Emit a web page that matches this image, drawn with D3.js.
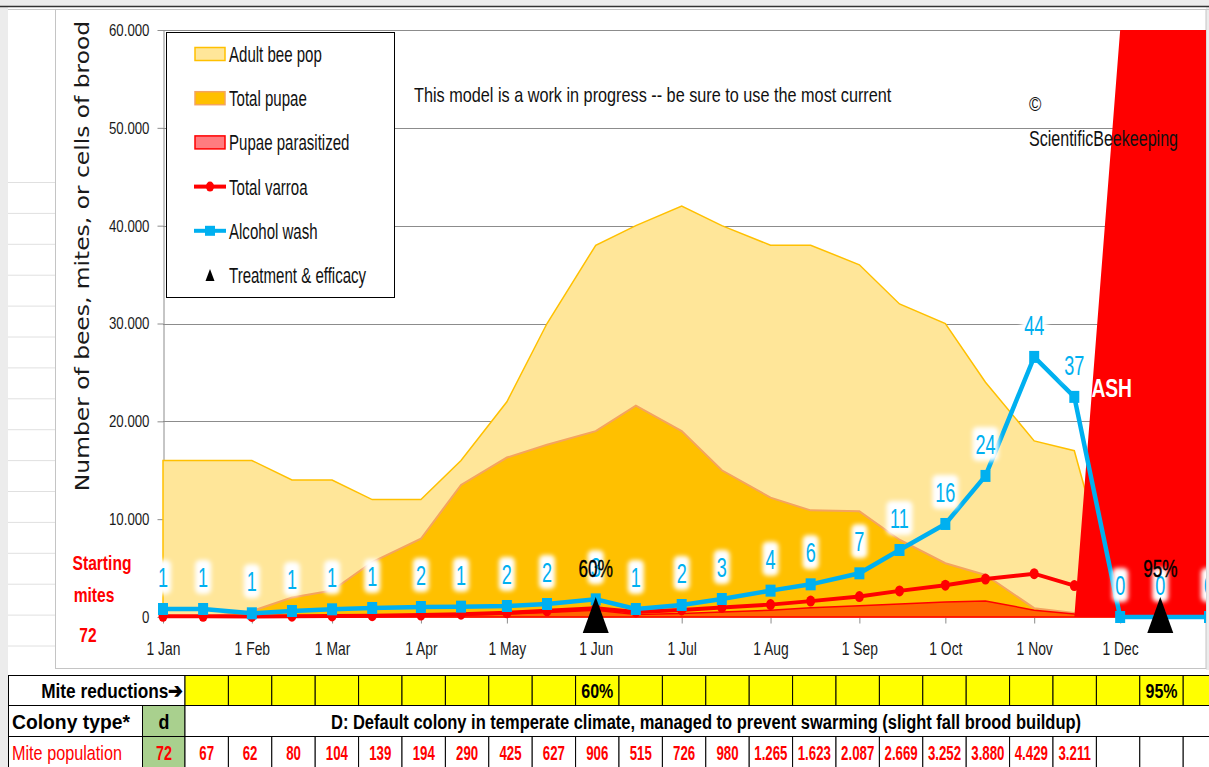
<!DOCTYPE html>
<html>
<head>
<meta charset="utf-8">
<script src="https://cdn.jsdelivr.net/npm/d3@7"></script>
<style>
  body { margin: 0; background: #fff; }
  text { font-family: "Liberation Sans", Arial, sans-serif; }
</style>
</head>
<body>
<svg id="chart"></svg>
<script>

	/* ---------------------------------
		Data
	------------------------------------*/

	// one point on the 1st and the 15th of every month
	var pointDates = ["2023-01-01","2023-01-15","2023-02-01","2023-02-15","2023-03-01","2023-03-15",
		"2023-04-01","2023-04-15","2023-05-01","2023-05-15","2023-06-01","2023-06-15",
		"2023-07-01","2023-07-15","2023-08-01","2023-08-15","2023-09-01","2023-09-15",
		"2023-10-01","2023-10-15","2023-11-01","2023-11-15","2023-12-01","2023-12-15","2024-01-01"];

	var adultBees = [16000,16000,16000,14000,14000,12000,12000,16000,22000,30000,38000,40000,
		42000,40000,38000,38000,36000,32000,30000,24000,18000,17000,0,0,0];

	var totalPupae = [0,0,600,2000,2700,5600,8000,13500,16300,17600,19000,21600,
		19000,15000,12200,10900,10800,7900,5500,4300,900,400,0,0,0];

	var pupaeParasitized = [0,0,0,0,50,100,150,200,300,450,700,250,
		350,500,700,950,1150,1330,1530,1640,700,300,0,0,0];

	// colony collapse marker series (runs off the top of the axis)
	var crash = [0,0,0,0,0,0,0,0,0,0,0,0,0,0,0,0,0,0,0,0,0,0,60000,60000,60000];

	var totalVarroa = [72,67,62,80,104,139,194,290,425,627,906,515,
		726,980,1265,1623,2087,2669,3252,3880,4429,3211,null,null,null];

	// alcohol wash: plotted height and the label shown above it
	var washPlot = [818,818,378,613,786,920,1022,1056,1125,1329,1806,818,
		1227,1840,2693,3340,4465,6850,9509,14420,26585,22500,0,0,0];
	var washLabels = ["1","1","1","1","1","1","2","1","2","2","3","1",
		"2","3","4","6","7","11","16","24","44","37","0","0","0"];

	var treatmentDates = ["2023-06-01","2023-12-15"];
	var treatmentLabels = ["60%","95%"];

	var yTicks = [0,10000,20000,30000,40000,50000,60000];

	var legendLabels = ["Adult bee pop","Total pupae","Pupae parasitized","Total varroa","Alcohol wash","Treatment & efficacy"];

	// table under the chart
	var startingMites = 72;
	var colonyType = "d";
	var colonyText = "D: Default colony in temperate climate, managed to prevent swarming (slight fall brood buildup)";
	var reductionRow = ["","","","","","","","","","60%","","","","","","","","","","","","","95%",""];
	var mitePopRow = [67,62,80,104,139,194,290,425,627,906,515,726,980,1265,1623,2087,2669,3252,3880,4429,3211,null,null,null];


	/* ---------------------------------
		Setup
	------------------------------------*/

	var w = 1209;
	var h = 767;

	var parseDay = d3.timeParse("%Y-%m-%d");
	var dates = pointDates.map(parseDay);

	var locale = d3.formatLocale({decimal: ",", thousands: ".", grouping: [3], currency: ["", ""]});
	var fmt = locale.format(",");

	var xScale = d3.scaleTime()
		.domain([parseDay("2023-01-01"), parseDay("2024-01-01")])
		.range([163, 1209]);

	var yScale = d3.scaleLinear()
		.domain([0, 60000])
		.range([617, 30]);

	var plotRight = 1206;

	var svg = d3.select("#chart")
		.attr("width", w)
		.attr("height", h);

	var defs = svg.append("defs");
	defs.append("clipPath").attr("id", "plotClip")
		.append("rect").attr("x", 100).attr("y", 0).attr("width", plotRight - 100).attr("height", 668);
	defs.append("filter").attr("id", "glow").attr("x", "-50%").attr("y", "-50%").attr("width", "200%").attr("height", "200%")
		.append("feGaussianBlur").attr("stdDeviation", 2);

	// narrow text: the screenshot squeezes its fonts sideways
	function nt(parent, x, y, str, size, sx, anchor) {
		return parent.append("text")
			.attr("transform", "translate(" + x + "," + y + ") scale(" + sx + ",1)")
			.attr("text-anchor", anchor || "start")
			.attr("font-size", size)
			.text(str);
	}
	// squeeze a text so that it spans a given width
	function fit(sel, width) {
		var len = sel.node().getComputedTextLength();
		var t = sel.attr("transform").replace(/scale\([^)]*\)/, "scale(" + (width / len) + ",1)");
		sel.attr("transform", t);
		return sel;
	}


	/* ---------------------------------
		Spreadsheet backdrop
	------------------------------------*/

	svg.append("rect").attr("width", w).attr("height", h).attr("fill", "#fff");
	svg.append("rect").attr("width", w).attr("height", 6).attr("fill", "#ececec");
	svg.append("rect").attr("width", 8).attr("height", h).attr("fill", "#ececec");
	svg.append("rect").attr("x", plotRight).attr("width", w - plotRight).attr("height", 670).attr("fill", "#ececec");
	svg.append("line").attr("x1", 0).attr("x2", w).attr("y1", 6.5).attr("y2", 6.5).attr("stroke", "#333").attr("stroke-width", 1.5);
	svg.append("line").attr("x1", 8).attr("x2", w).attr("y1", 9.5).attr("y2", 9.5).attr("stroke", "#c8c8c8");

	// cell grid left of the chart
	svg.selectAll(".rowline").data(d3.range(16)).enter().append("line")
		.attr("x1", 8).attr("x2", 55)
		.attr("y1", function(d) { return 182.5 + d * 30.9; })
		.attr("y2", function(d) { return 182.5 + d * 30.9; })
		.attr("stroke", "#e0e0e0");

	// chart object border
	svg.append("rect").attr("x", 55.5).attr("y", 9.5).attr("width", plotRight - 55.5).attr("height", 659)
		.attr("fill", "#fff").attr("stroke", "#c4c4c4");


	/* ---------------------------------
		Axes & grid
	------------------------------------*/

	svg.selectAll(".grid").data(yTicks).enter().append("line")
		.attr("x1", 163).attr("x2", plotRight)
		.attr("y1", function(d) { return Math.round(yScale(d)) + 0.5; })
		.attr("y2", function(d) { return Math.round(yScale(d)) + 0.5; })
		.attr("stroke", "#8c8c8c");

	var yAxis = d3.axisLeft(yScale).tickValues(yTicks).tickFormat(fmt).tickSize(6).tickSizeOuter(0).tickPadding(0);
	var gy = svg.append("g").attr("transform", "translate(163.5,0)").call(yAxis);
	gy.select(".domain").attr("stroke", "#8c8c8c");
	gy.selectAll(".tick line").attr("stroke", "#8c8c8c");
	gy.selectAll("text").attr("x", null).attr("font-size", 17).attr("font-family", null).attr("fill", "#1a1a1a")
		.attr("transform", "translate(-14,0) scale(0.78,1)");

	var months = d3.timeMonth.range(parseDay("2023-01-01"), parseDay("2023-12-02"));
	var xAxis = d3.axisBottom(xScale).tickValues(months).tickFormat(d3.timeFormat("%-d %b")).tickSize(6).tickSizeOuter(0).tickPadding(18);
	var gx = svg.append("g").attr("transform", "translate(0,617.5)").call(xAxis);
	gx.select(".domain").remove();
	gx.selectAll(".tick line").attr("stroke", "#8c8c8c");
	gx.selectAll("text").attr("font-size", 19).attr("font-family", null).attr("fill", "#1a1a1a")
		.attr("transform", "scale(0.73,1)");

	svg.append("text")
		.attr("transform", "translate(89,256) rotate(-90) scale(1.2,1)")
		.attr("text-anchor", "middle")
		.style("font-family", "'DejaVu Sans', Verdana, sans-serif")
		.attr("font-size", 19.5)
		.attr("fill", "#1a1a1a")
		.text("Number of bees, mites, or cells of brood");


	/* ---------------------------------
		Areas
	------------------------------------*/

	var plot = svg.append("g").attr("clip-path", "url(#plotClip)");

	function areaOf(values) {
		return d3.area()
			.x(function(d, i) { return xScale(dates[i]); })
			.y0(yScale(0))
			.y1(function(d) { return yScale(d); })(values);
	}
	function lineOf(values) {
		return d3.line()
			.defined(function(d) { return d !== null; })
			.x(function(d, i) { return xScale(dates[i]); })
			.y(function(d) { return yScale(d); })(values);
	}

	plot.append("path").attr("d", areaOf(adultBees)).attr("fill", "#ffe699").attr("stroke", "#ffc000").attr("stroke-width", 1.5);
	plot.append("path").attr("d", areaOf(totalPupae)).attr("fill", "#ffc000").attr("stroke", "#f4a460").attr("stroke-width", 2);
	plot.append("path").attr("d", areaOf(pupaeParasitized)).attr("fill", "#ff6600").attr("stroke", "#ff0000").attr("stroke-width", 1.5);
	plot.append("path").attr("d", areaOf(crash)).attr("fill", "#ff0000");

	nt(plot, 1132, 397, "CRASH", 26, 0.74, "end")
		.attr("font-weight", "bold")
		.attr("fill", "#fff");


	/* ---------------------------------
		Lines
	------------------------------------*/

	plot.append("path").attr("d", lineOf(totalVarroa)).attr("fill", "none").attr("stroke", "#ff0000").attr("stroke-width", 4);
	plot.selectAll(".vdot").data(totalVarroa.map(function(v, i) { return {v: v, d: dates[i]}; }).filter(function(p) { return p.v !== null; }))
		.enter().append("ellipse")
		.attr("cx", function(p) { return xScale(p.d); })
		.attr("cy", function(p) { return yScale(p.v); })
		.attr("rx", 4.5).attr("ry", 5.5)
		.attr("fill", "#ff0000");

	plot.append("path").attr("d", lineOf(washPlot)).attr("fill", "none").attr("stroke", "#00b0f0").attr("stroke-width", 4.5);
	plot.selectAll(".wsq").data(washPlot).enter().append("rect")
		.attr("x", function(d, i) { return xScale(dates[i]) - 5; })
		.attr("y", function(d) { return yScale(d) - 6; })
		.attr("width", 10).attr("height", 12)
		.attr("fill", "#00b0f0");

	// wash labels with a soft white box
	var wl = plot.selectAll(".wlab").data(washLabels).enter().append("g")
		.attr("transform", function(d, i) { return "translate(" + xScale(dates[i]) + "," + (yScale(washPlot[i]) - 32) + ")"; });
	wl.append("rect")
		.attr("x", function(d) { return -(d.length * 5 + 3); })
		.attr("y", -17)
		.attr("width", function(d) { return d.length * 10 + 6; })
		.attr("height", 34)
		.attr("rx", 5)
		.attr("fill", "#fff")
		.attr("filter", "url(#glow)");
	wl.append("text")
		.attr("text-anchor", "middle")
		.attr("transform", "translate(0,10) scale(0.67,1)")
		.attr("font-size", 27)
		.attr("fill", "#00b0f0")
		.text(function(d) { return d; });

	// treatments
	var tr = svg.selectAll(".treat").data(treatmentDates).enter().append("g")
		.attr("transform", function(d) { return "translate(" + xScale(parseDay(d)) + ",0)"; });
	tr.append("path")
		.attr("d", "M0,597L13,633L-13,633Z")
		.attr("fill", "#000");
	tr.append("text")
		.attr("text-anchor", "middle")
		.attr("transform", "translate(0,577) scale(0.7,1)")
		.attr("font-size", 24.5)
		.attr("fill", "#000")
		.attr("stroke", "#000").attr("stroke-width", 0.4)
		.text(function(d, i) { return treatmentLabels[i]; });


	/* ---------------------------------
		Legend & notes
	------------------------------------*/

	var lg = svg.append("g");
	lg.append("rect").attr("x", 166.5).attr("y", 32.5).attr("width", 228).attr("height", 265)
		.attr("fill", "#fff").attr("stroke", "#000");

	var swatches = [
		{fill: "#ffe699", stroke: "#ffc000"},
		{fill: "#ffc000", stroke: "#f4a460"},
		{fill: "#ff7c80", stroke: "#ff0000"}
	];
	var rowY = function(i) { return 54 + i * 44.2; };

	swatches.forEach(function(s, i) {
		lg.append("rect").attr("x", 195).attr("y", rowY(i) - 6.5).attr("width", 30).attr("height", 13)
			.attr("fill", s.fill).attr("stroke", s.stroke).attr("stroke-width", 1.5);
	});
	lg.append("line").attr("x1", 194).attr("x2", 226).attr("y1", rowY(3)).attr("y2", rowY(3)).attr("stroke", "#ff0000").attr("stroke-width", 4);
	lg.append("ellipse").attr("cx", 210).attr("cy", rowY(3)).attr("rx", 4).attr("ry", 5).attr("fill", "#ff0000");
	lg.append("line").attr("x1", 194).attr("x2", 226).attr("y1", rowY(4)).attr("y2", rowY(4)).attr("stroke", "#00b0f0").attr("stroke-width", 4);
	lg.append("rect").attr("x", 205).attr("y", rowY(4) - 5).attr("width", 10).attr("height", 10).attr("fill", "#00b0f0");
	lg.append("path").attr("transform", "translate(210," + rowY(5) + ")").attr("d", "M0,-6L4.5,6L-4.5,6Z").attr("fill", "#000");

	legendLabels.forEach(function(d, i) {
		nt(lg, 229, rowY(i) + 8, d, 21.5, 0.7).attr("fill", "#111");
	});

	fit(nt(svg, 414, 102, "This model is a work in progress -- be sure to use the most current", 21, 0.72).attr("fill", "#111"), 477);
	nt(svg, 1029, 111, "©", 21, 0.8).attr("fill", "#111");
	fit(nt(plot, 1029, 146, "ScientificBeekeeping", 22, 0.72).attr("fill", "#111"), 149);

	var sm = svg.append("g").attr("font-weight", "bold").attr("fill", "#ff0000");
	nt(sm, 102, 570, "Starting", 20, 0.78, "middle");
	nt(sm, 94, 602, "mites", 20, 0.78, "middle");
	nt(sm, 88, 642, startingMites, 20, 0.78, "middle");


	/* ---------------------------------
		Table
	------------------------------------*/

	var colX = d3.scaleBand().domain(d3.range(reductionRow.length)).range([185, 185 + 43.4 * reductionRow.length]);
	var rows = [675.5, 705.5, 736.5, 767.5];
	var tb = svg.append("g");

	tb.append("rect").attr("x", 8.5).attr("y", rows[0]).attr("width", 176.5).attr("height", 30).attr("fill", "#fff").attr("stroke", "#000");
	tb.selectAll(".ycell").data(reductionRow).enter().append("rect")
		.attr("x", function(d, i) { return colX(i); }).attr("y", rows[0])
		.attr("width", colX.bandwidth()).attr("height", 30)
		.attr("fill", "#ffff00").attr("stroke", "#000");
	reductionRow.forEach(function(d, i) {
		if (d) nt(tb, colX(i) + colX.bandwidth() / 2, rows[0] + 22, d, 20, 0.8, "middle").attr("font-weight", "bold");
	});
	fit(nt(tb, 183, rows[0] + 22, "Mite reductions\u2794", 20.5, 0.8, "end").attr("font-weight", "bold"), 142);

	tb.append("rect").attr("x", 8.5).attr("y", rows[1]).attr("width", 134).attr("height", 31).attr("fill", "#fff").attr("stroke", "#000");
	tb.append("rect").attr("x", 142.5).attr("y", rows[1]).attr("width", 42.5).attr("height", 31).attr("fill", "#a9d08e").attr("stroke", "#000");
	tb.append("rect").attr("x", 185).attr("y", rows[1]).attr("width", 1100).attr("height", 31).attr("fill", "#fff").attr("stroke", "#000");
	fit(nt(tb, 12, rows[1] + 23, "Colony type*", 21, 0.9).attr("font-weight", "bold"), 118);
	nt(tb, 164, rows[1] + 23, colonyType, 21, 0.85, "middle").attr("font-weight", "bold");
	fit(nt(tb, 706, rows[1] + 23, colonyText, 20.5, 0.75, "middle").attr("font-weight", "bold"), 750);

	tb.append("rect").attr("x", 8.5).attr("y", rows[2]).attr("width", 134).attr("height", 31).attr("fill", "#fff").attr("stroke", "#000");
	tb.append("rect").attr("x", 142.5).attr("y", rows[2]).attr("width", 42.5).attr("height", 31).attr("fill", "#a9d08e").attr("stroke", "#000");
	tb.selectAll(".mcell").data(mitePopRow).enter().append("rect")
		.attr("x", function(d, i) { return colX(i); }).attr("y", rows[2])
		.attr("width", colX.bandwidth()).attr("height", 31)
		.attr("fill", "#fff").attr("stroke", "#000");
	fit(nt(tb, 12, rows[2] + 23, "Mite population", 20.5, 0.82).attr("fill", "#ff0000"), 110);
	nt(tb, 164, rows[2] + 23, startingMites, 20, 0.72, "middle").attr("font-weight", "bold").attr("fill", "#ff0000");
	mitePopRow.forEach(function(d, i) {
		if (d !== null) nt(tb, colX(i) + colX.bandwidth() / 2, rows[2] + 23, fmt(d), 19.5, 0.68, "middle")
			.attr("font-weight", "bold").attr("fill", "#ff0000");
	});

</script>
</body>
</html>
